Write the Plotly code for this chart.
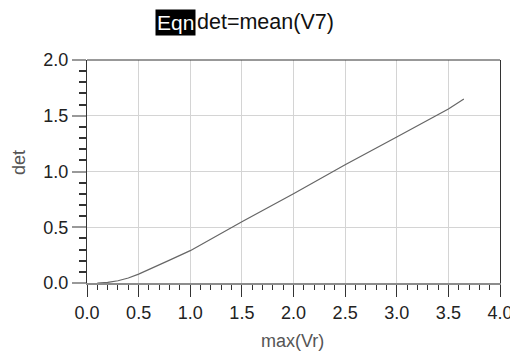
import plotly.graph_objects as go

# Sweep result: detector output vs. peak input voltage
max_vr = [0.1, 0.2, 0.3, 0.4, 0.5, 0.6, 0.8, 1.0, 1.5, 2.0, 2.5, 3.0, 3.5, 3.65]
det = [0.0, 0.005, 0.02, 0.045, 0.08, 0.12, 0.205, 0.29, 0.55, 0.80, 1.06, 1.31, 1.56, 1.65]

x_ticks = [0.0, 0.5, 1.0, 1.5, 2.0, 2.5, 3.0, 3.5, 4.0]
y_ticks = [0.0, 0.5, 1.0, 1.5, 2.0]

FONT = "Liberation Sans, Arial, sans-serif"

W, H = 510, 354
ML, MR, MT, MB = 87, 10, 60, 71
PW, PH = W - ML - MR, H - MT - MB


def px(x):
    """Figure pixel column -> paper x (plot-area relative)."""
    return (x - ML) / PW


def py(y):
    """Figure pixel row -> paper y (plot-area relative)."""
    return (H - MB - y) / PH


fig = go.Figure()
fig.add_trace(go.Scatter(
    x=max_vr, y=det, mode="lines",
    line=dict(color="#666666", width=1.2),
    hoverinfo="skip", showlegend=False,
))

fig.update_layout(
    width=W, height=H,
    margin=dict(l=ML, r=MR, t=MT, b=MB, autoexpand=False),
    paper_bgcolor="white", plot_bgcolor="white",
    font=dict(family=FONT, size=18, color="#222222"),
    xaxis=dict(
        range=[0, 4], tickvals=x_ticks, ticktext=[f"{v:.1f}" for v in x_ticks],
        showgrid=True, gridcolor="#d4d4d4", gridwidth=1,
        zeroline=False, automargin=False,
        showline=True, linecolor="#8c8c8c", linewidth=2, mirror=False,
        ticks="outside", ticklen=12, tickcolor="#333333", tickwidth=1,
        minor=dict(dtick=0.1, tick0=0, ticks="outside", ticklen=5,
                   tickcolor="#333333", showgrid=False),
        tickfont=dict(size=18, color="#222222"),
        ticklabeloverflow="allow",
        fixedrange=True,
    ),
    yaxis=dict(
        range=[0, 2], tickvals=y_ticks, ticktext=[f"{v:.1f}" for v in y_ticks],
        showgrid=True, gridcolor="#d4d4d4", gridwidth=1,
        zeroline=False, automargin=False,
        showline=True, linecolor="#333333", linewidth=1, mirror=True,
        ticks="outside", ticklen=14, tickcolor="#999999", tickwidth=1.5,
        minor=dict(dtick=0.1, tick0=0, ticks="outside", ticklen=7,
                   tickcolor="#333333", showgrid=False),
        tickfont=dict(size=18, color="#222222"),
        fixedrange=True,
    ),
    shapes=[
        # dark top edge of the plot frame
        dict(type="line", xref="paper", yref="paper", x0=0, x1=1, y0=1, y1=1,
             line=dict(color="#333333", width=1)),
    ],
    annotations=[
        dict(text="Eqn", xref="paper", yref="paper", x=px(155), y=py(23),
             xanchor="left", yanchor="middle", showarrow=False,
             font=dict(family=FONT, size=21, color="white"),
             bgcolor="black", borderpad=1),
        dict(text="det=mean(V7)", xref="paper", yref="paper", x=px(195), y=py(22),
             xanchor="left", yanchor="middle", showarrow=False,
             font=dict(family=FONT, size=21.5, color="#111111")),
        dict(text="max(Vr)", xref="paper", yref="paper", x=px(292), y=py(341),
             xanchor="center", yanchor="middle", showarrow=False,
             font=dict(family=FONT, size=18, color="#555555")),
        dict(text="det", xref="paper", yref="paper", x=px(19), y=py(163),
             xanchor="center", yanchor="middle", showarrow=False, textangle=-90,
             font=dict(family=FONT, size=18, color="#555555")),
    ],
)

fig.write_html("out.html")
